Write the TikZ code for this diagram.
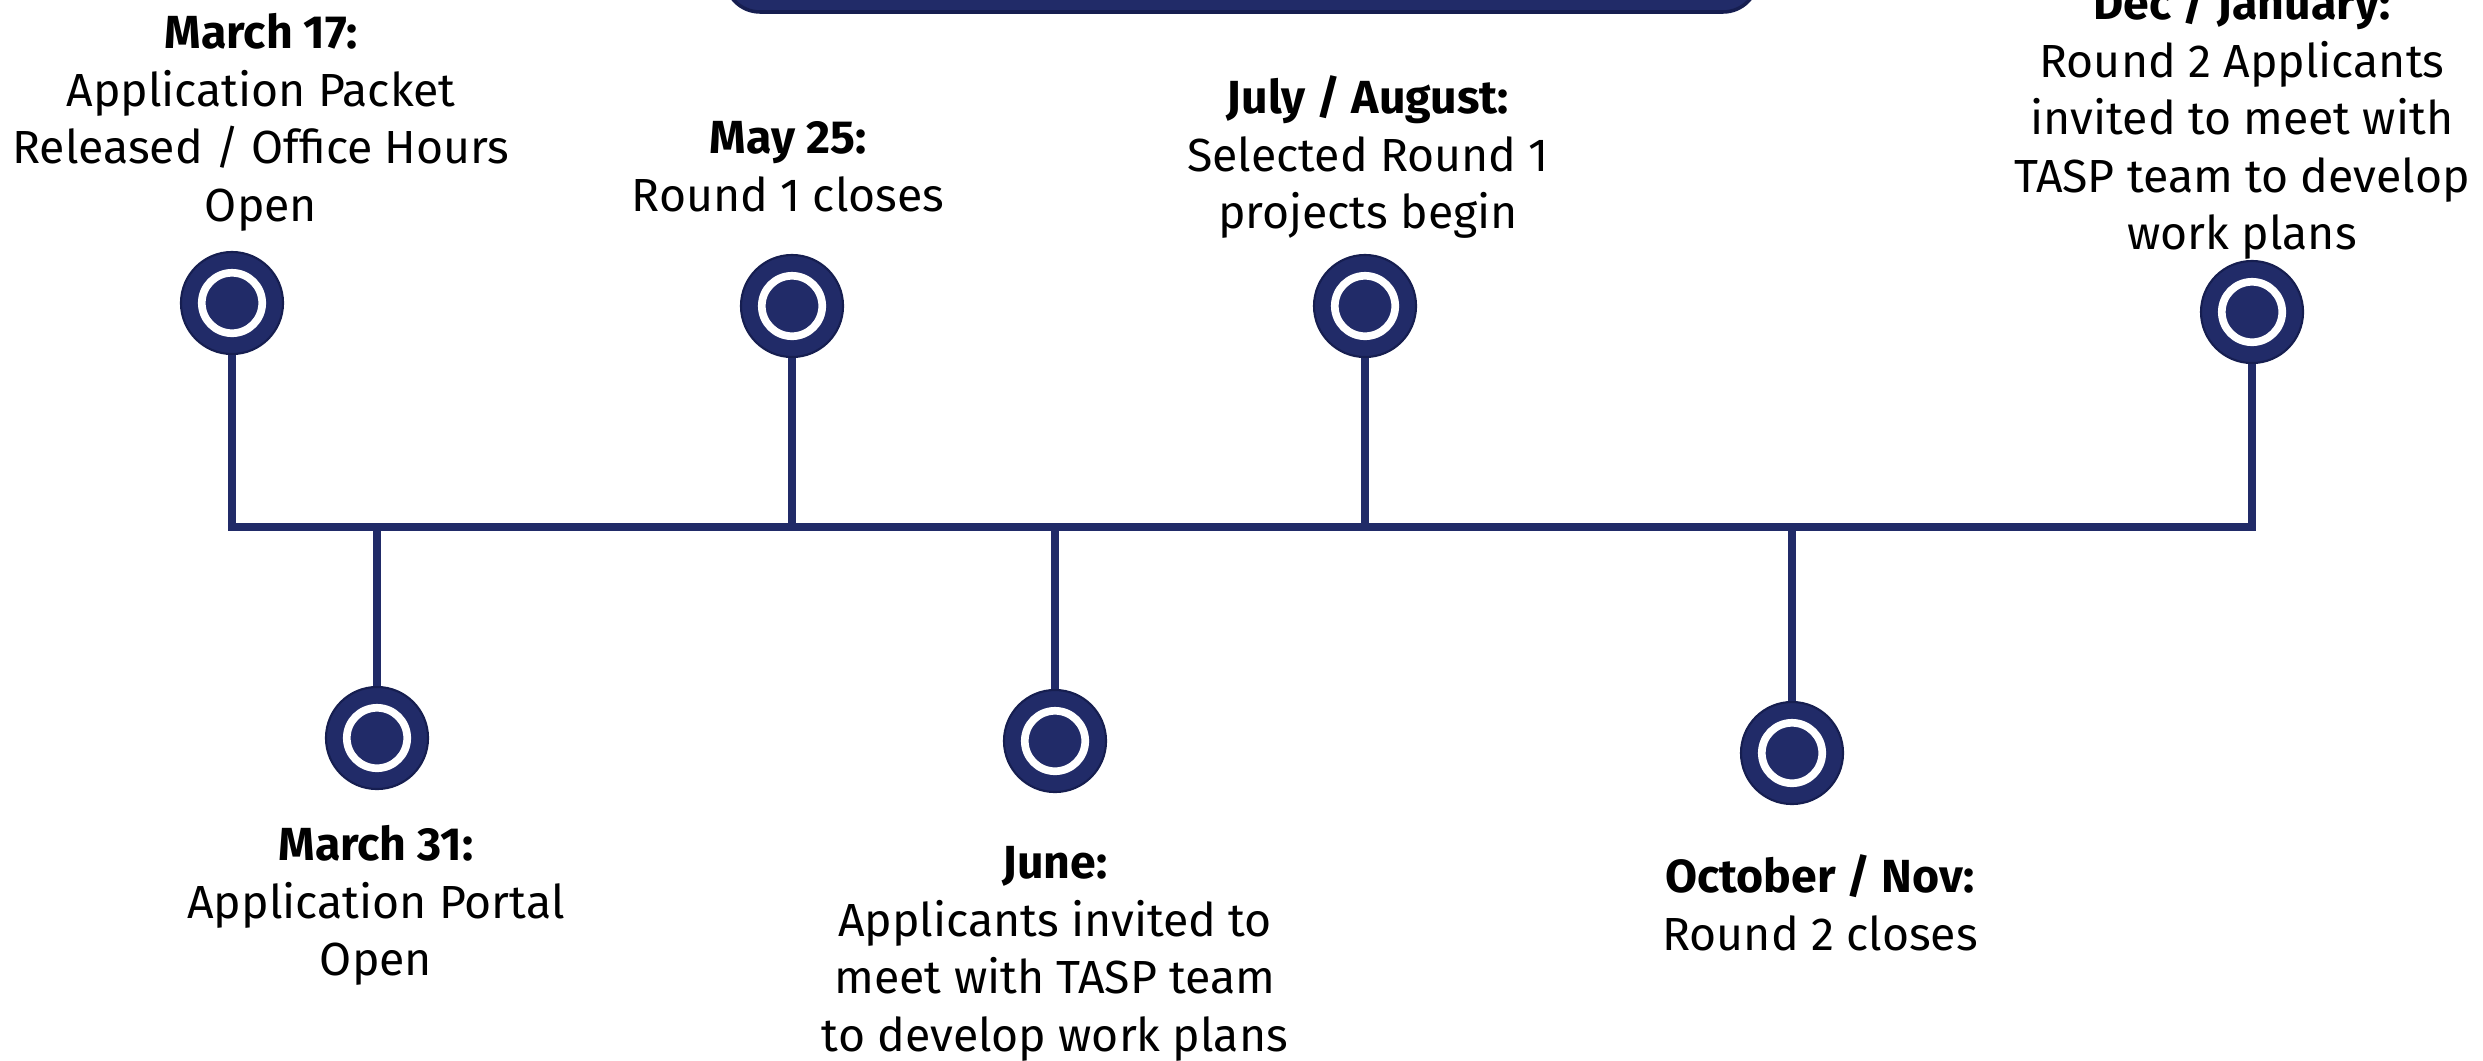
\documentclass[tikz,border=0pt]{standalone}
\usepackage{fontspec}
\setmainfont{Fira Sans}
\definecolor{navy}{RGB}{33,43,104}
\definecolor{navyedge}{RGB}{22,30,80}
\begin{document}
\begin{tikzpicture}[x=0.01cm,y=-0.01cm,
  lbl/.style={align=center, anchor=north, inner sep=0pt,
    font=\fontsize{13.2pt}{16.36pt}\selectfont,
    execute at begin node={\rule{0pt}{0.8em}}},
  marker/.style={circle, minimum size=1.02cm, inner sep=0pt, fill=navy,
    draw=navyedge, line width=0.6pt,
    path picture={\draw[white,line width=0.077cm]
      (path picture bounding box.center) circle (0.302cm);}},
  stem/.style={draw=navy, line width=0.08cm},
  tline/.style={draw=navy, line width=0.08cm, line cap=rect},
  banner/.style={fill=navy, draw=navyedge, line width=1pt, rounded corners=0.35cm}]
\clip (0,0) rectangle (2483,1060);
\fill[white] (0,0) rectangle (2483,1060);
% banner (cut off at the top)
\draw[banner] (725,-100) rectangle (1758,12);
% markers
\node[marker] (m1) at (232,303) {};
\node[marker] (m2) at (377,738) {};
\node[marker] (m3) at (792,306) {};
\node[marker] (m4) at (1055,741) {};
\node[marker] (m5) at (1365,306) {};
\node[marker] (m6) at (1792,753) {};
\node[marker] (m7) at (2252,312) {};
\coordinate (L) at (0,527);
% main line and stems
\draw[tline] (m1 |- L) -- (m7 |- L);
\foreach \m in {m1,m3,m5,m7} \draw[stem] (\m.south) -- (\m |- L);
\foreach \m in {m2,m4,m6} \draw[stem] (\m |- L) -- (\m.north);
% labels
\node[lbl] (t1) at (261,13) {\textbf{March 17:}\\Application Packet\\Released / Office Hours\\Open};
\node[lbl] (t3) at (788,121) {\textbf{May 25:}\\Round 1 closes};
\node[lbl] (t5) at (1368,75) {\textbf{July / August:}\\Selected Round 1\\projects begin};
\node[lbl] (t7) at (2242,-19) {\textbf{Dec / January:}\\Round 2 Applicants\\invited to meet with\\TASP team to develop\\work plans};
\node[lbl] (t2) at (376,825) {\textbf{March 31:}\\Application Portal\\Open};
\node[lbl] (t4) at (1055,846) {\textbf{June:}\\Applicants invited to\\meet with TASP team\\to develop work plans};
\node[lbl] (t6) at (1820,854) {\textbf{October / Nov:}\\Round 2 closes};
\end{tikzpicture}
\end{document}
